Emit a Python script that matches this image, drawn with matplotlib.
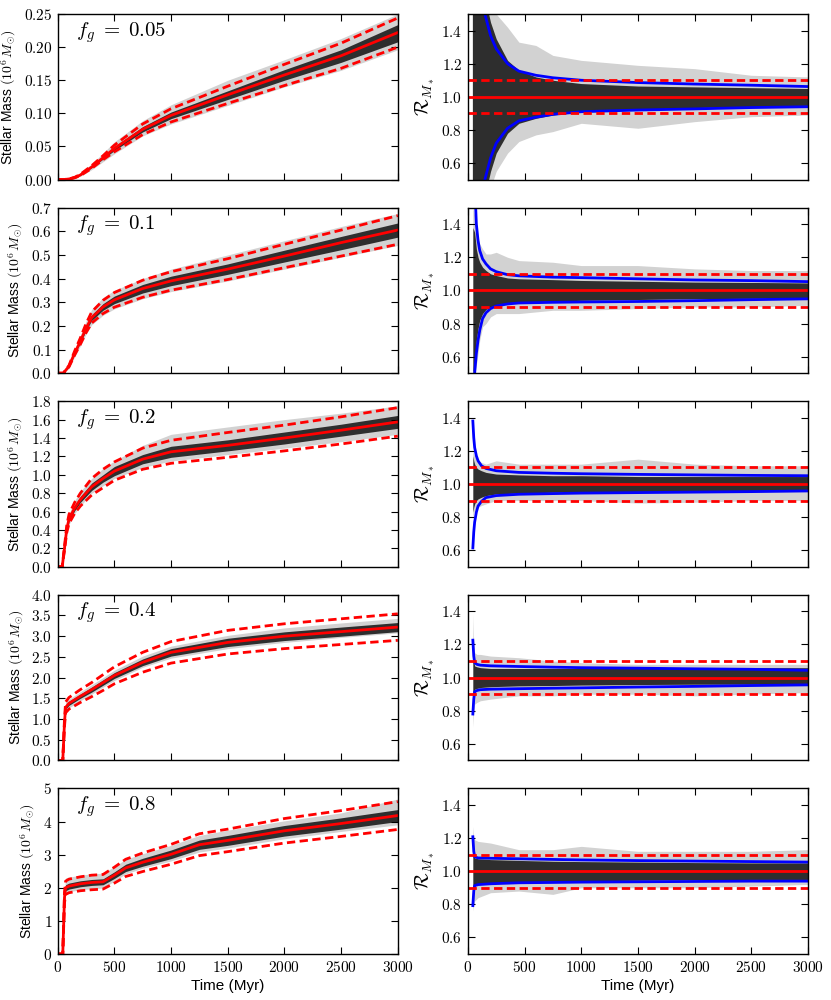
import numpy as np
import matplotlib
matplotlib.use("Agg")
import matplotlib.pyplot as plt

plt.rcParams["mathtext.fontset"] = "cm"
plt.rcParams["font.family"] = ["Liberation Sans", "DejaVu Sans"]

# ---- left column: stellar mass (10^6 Msun) vs time (Myr) ----
fg_labels = ["0.05", "0.1", "0.2", "0.4", "0.8"]

t1 = [0, 50, 100, 150, 200, 300, 400, 500, 750, 1000, 1500, 2000, 2500, 3000]
med1 = [0, 0, 0.001, 0.003, 0.007, 0.019, 0.033, 0.047, 0.076, 0.097, 0.128, 0.158, 0.187, 0.222]
up1 = [0, 0, 0.001, 0.0035, 0.008, 0.021, 0.036, 0.052, 0.084, 0.107, 0.141, 0.174, 0.206, 0.244]
lo1 = [0, 0, 0.001, 0.0027, 0.006, 0.017, 0.030, 0.042, 0.068, 0.087, 0.115, 0.142, 0.168, 0.200]
envhi1 = [0, 0, 0.002, 0.005, 0.010, 0.024, 0.040, 0.057, 0.089, 0.113, 0.150, 0.181, 0.213, 0.250]
envlo1 = [0, 0, 0.0005, 0.002, 0.005, 0.015, 0.027, 0.039, 0.066, 0.084, 0.112, 0.140, 0.165, 0.196]
corehi1 = [0, 0, 0.001, 0.0032, 0.0075, 0.020, 0.035, 0.050, 0.080, 0.102, 0.134, 0.166, 0.196, 0.234]
corelo1 = [0, 0, 0.001, 0.0028, 0.0065, 0.018, 0.031, 0.044, 0.072, 0.092, 0.121, 0.150, 0.177, 0.208]

t2 = [0, 50, 100, 150, 200, 250, 300, 400, 500, 750, 1000, 1500, 2000, 2500, 3000]
med2 = [0, 0, 0.03, 0.085, 0.135, 0.19, 0.235, 0.28, 0.31, 0.358, 0.39, 0.44, 0.495, 0.552, 0.605]
up2 = [0, 0, 0.033, 0.094, 0.149, 0.209, 0.259, 0.308, 0.341, 0.393, 0.429, 0.484, 0.545, 0.605, 0.666]
lo2 = [0, 0, 0.027, 0.077, 0.122, 0.171, 0.212, 0.252, 0.279, 0.321, 0.351, 0.396, 0.446, 0.495, 0.545]
envhi2 = [0, 0, 0.04, 0.10, 0.16, 0.22, 0.27, 0.32, 0.35, 0.40, 0.44, 0.50, 0.56, 0.62, 0.675]
envlo2 = [0, 0, 0.02, 0.07, 0.115, 0.165, 0.205, 0.245, 0.272, 0.315, 0.345, 0.39, 0.44, 0.49, 0.54]
corehi2 = [0, 0, 0.032, 0.089, 0.142, 0.20, 0.247, 0.294, 0.326, 0.375, 0.41, 0.462, 0.52, 0.578, 0.635]
corelo2 = [0, 0, 0.028, 0.081, 0.128, 0.18, 0.223, 0.266, 0.294, 0.339, 0.37, 0.418, 0.47, 0.522, 0.575]

t3 = [0, 40, 60, 80, 100, 150, 200, 300, 400, 500, 750, 1000, 1500, 2000, 2500, 3000]
med3 = [0, 0, 0.2, 0.41, 0.52, 0.64, 0.73, 0.87, 0.96, 1.04, 1.17, 1.25, 1.32, 1.40, 1.485, 1.575]
up3 = [0, 0, 0.22, 0.45, 0.57, 0.70, 0.80, 0.96, 1.06, 1.14, 1.29, 1.375, 1.46, 1.54, 1.63, 1.73]
lo3 = [0, 0, 0.18, 0.37, 0.47, 0.58, 0.66, 0.78, 0.86, 0.94, 1.06, 1.125, 1.19, 1.26, 1.335, 1.42]
envhi3 = [0, 0, 0.24, 0.47, 0.58, 0.72, 0.82, 0.96, 1.07, 1.15, 1.32, 1.44, 1.52, 1.60, 1.67, 1.75]
envlo3 = [0, 0, 0.17, 0.36, 0.46, 0.58, 0.66, 0.80, 0.88, 0.96, 1.08, 1.15, 1.22, 1.29, 1.36, 1.44]
corehi3 = [0, 0, 0.21, 0.43, 0.545, 0.67, 0.765, 0.91, 1.0, 1.09, 1.22, 1.31, 1.38, 1.465, 1.55, 1.645]
corelo3 = [0, 0, 0.19, 0.39, 0.495, 0.61, 0.70, 0.83, 0.92, 0.99, 1.12, 1.19, 1.26, 1.335, 1.42, 1.505]

t4 = [0, 45, 60, 70, 100, 200, 300, 400, 500, 750, 1000, 1500, 2000, 2500, 3000]
med4 = [0, 0, 0.9, 1.28, 1.38, 1.55, 1.71, 1.88, 2.05, 2.37, 2.61, 2.85, 3.0, 3.11, 3.22]
up4 = [0, 0, 0.99, 1.41, 1.52, 1.71, 1.88, 2.07, 2.26, 2.61, 2.87, 3.14, 3.30, 3.42, 3.54]
lo4 = [0, 0, 0.81, 1.15, 1.24, 1.40, 1.54, 1.69, 1.85, 2.13, 2.35, 2.57, 2.70, 2.80, 2.90]
envhi4 = [0, 0, 0.95, 1.40, 1.48, 1.66, 1.83, 2.0, 2.18, 2.52, 2.76, 3.02, 3.2, 3.32, 3.43]
envlo4 = [0, 0, 0.85, 1.18, 1.27, 1.44, 1.6, 1.77, 1.93, 2.25, 2.47, 2.7, 2.85, 2.97, 3.08]
corehi4 = [0, 0, 0.93, 1.325, 1.43, 1.6, 1.77, 1.945, 2.12, 2.45, 2.7, 2.95, 3.105, 3.22, 3.33]
corelo4 = [0, 0, 0.87, 1.235, 1.33, 1.5, 1.65, 1.815, 1.98, 2.29, 2.52, 2.75, 2.895, 3.0, 3.11]

t5 = [0, 45, 60, 70, 100, 200, 300, 400, 500, 600, 750, 1000, 1250, 1500, 2000, 2500, 3000]
med5 = [0, 0, 1.7, 2.0, 2.05, 2.12, 2.16, 2.18, 2.38, 2.6, 2.77, 3.01, 3.3, 3.43, 3.72, 3.94, 4.18]
up5 = [0, 0, 1.87, 2.2, 2.26, 2.33, 2.38, 2.4, 2.62, 2.86, 3.05, 3.31, 3.63, 3.77, 4.09, 4.33, 4.6]
lo5 = [0, 0, 1.53, 1.8, 1.85, 1.91, 1.94, 1.96, 2.14, 2.34, 2.49, 2.71, 2.97, 3.09, 3.35, 3.55, 3.76]
envhi5 = [0, 0, 1.9, 2.3, 2.32, 2.38, 2.42, 2.44, 2.64, 2.86, 3.03, 3.28, 3.58, 3.74, 4.02, 4.26, 4.68]
envlo5 = [0, 0, 1.6, 1.85, 1.88, 1.94, 1.97, 1.99, 2.2, 2.42, 2.59, 2.81, 3.08, 3.2, 3.48, 3.7, 3.9]
corehi5 = [0, 0, 1.78, 2.09, 2.14, 2.21, 2.25, 2.27, 2.48, 2.71, 2.89, 3.14, 3.44, 3.58, 3.88, 4.11, 4.36]
corelo5 = [0, 0, 1.62, 1.91, 1.96, 2.03, 2.07, 2.09, 2.28, 2.49, 2.65, 2.88, 3.16, 3.28, 3.56, 3.77, 4.0]

mass_ylim = [0.25, 0.7, 1.8, 4.0, 5.0]
mass_ystep = [0.05, 0.1, 0.2, 0.5, 1.0]
mass_ydec = [2, 1, 1, 1, 0]

# ---- right column: ratio R = M / median ----
tr1 = [40, 60, 100, 150, 200, 250, 350, 450, 600, 750, 1000, 1500, 2000, 2500, 3000]
bhi1 = [4.0, 2.8, 1.9, 1.5, 1.37, 1.29, 1.20, 1.155, 1.13, 1.115, 1.10, 1.086, 1.077, 1.07, 1.062]
blo1 = [-1.0, -0.2, 0.3, 0.5, 0.63, 0.72, 0.81, 0.855, 0.877, 0.894, 0.91, 0.92, 0.927, 0.935, 0.94]
rehi1 = [3.0, 3.0, 2.0, 1.7, 1.56, 1.5, 1.42, 1.33, 1.31, 1.25, 1.22, 1.19, 1.17, 1.13, 1.12]
relo1 = [-1.0, -1.0, 0.0, 0.3, 0.45, 0.55, 0.66, 0.73, 0.77, 0.79, 0.84, 0.81, 0.85, 0.88, 0.89]
rchi1 = [3.0, 3.0, 2.0, 1.6, 1.45, 1.35, 1.22, 1.16, 1.12, 1.10, 1.08, 1.065, 1.06, 1.055, 1.05]
rclo1 = [-1.0, -1.0, 0.0, 0.4, 0.55, 0.66, 0.78, 0.84, 0.87, 0.89, 0.91, 0.925, 0.935, 0.94, 0.945]

tr2 = [44, 60, 75, 90, 105, 130, 160, 200, 250, 350, 450, 750, 1000, 1500, 2000, 2500, 3000]
bhi2 = [2.2, 1.65, 1.40, 1.30, 1.24, 1.19, 1.16, 1.13, 1.113, 1.095, 1.088, 1.08, 1.077, 1.07, 1.063, 1.059, 1.053]
blo2 = [-0.2, 0.5, 0.62, 0.70, 0.76, 0.83, 0.865, 0.89, 0.906, 0.918, 0.924, 0.928, 0.93, 0.933, 0.938, 0.944, 0.949]
rehi2 = [1.5, 1.45, 1.38, 1.32, 1.28, 1.25, 1.22, 1.22, 1.23, 1.2, 1.18, 1.17, 1.15, 1.15, 1.13, 1.12, 1.12]
relo2 = [0.5, 0.5, 0.55, 0.62, 0.7, 0.78, 0.8, 0.84, 0.86, 0.86, 0.86, 0.88, 0.88, 0.89, 0.9, 0.9, 0.91]
rchi2 = [1.38, 1.35, 1.25, 1.2, 1.17, 1.14, 1.12, 1.1, 1.09, 1.075, 1.07, 1.065, 1.06, 1.055, 1.05, 1.048, 1.045]
rclo2 = [0.5, 0.55, 0.7, 0.77, 0.82, 0.86, 0.885, 0.9, 0.912, 0.925, 0.93, 0.935, 0.94, 0.945, 0.95, 0.952, 0.955]

tr3 = [44, 52, 60, 75, 90, 120, 160, 250, 450, 750, 1000, 1500, 2000, 2500, 3000]
bhi3 = [1.38, 1.28, 1.22, 1.17, 1.14, 1.11, 1.094, 1.08, 1.07, 1.065, 1.062, 1.058, 1.055, 1.052, 1.05]
blo3 = [0.614, 0.71, 0.77, 0.83, 0.867, 0.895, 0.918, 0.93, 0.938, 0.942, 0.945, 0.948, 0.951, 0.954, 0.958]
rehi3 = [1.2, 1.18, 1.17, 1.15, 1.14, 1.13, 1.12, 1.14, 1.12, 1.12, 1.12, 1.15, 1.12, 1.11, 1.11]
relo3 = [0.8, 0.82, 0.84, 0.85, 0.86, 0.87, 0.88, 0.9, 0.9, 0.9, 0.9, 0.885, 0.89, 0.9, 0.9]
rchi3 = [1.17, 1.14, 1.12, 1.1, 1.09, 1.08, 1.07, 1.06, 1.055, 1.05, 1.05, 1.045, 1.045, 1.045, 1.045]
rclo3 = [0.83, 0.86, 0.88, 0.9, 0.91, 0.92, 0.93, 0.94, 0.945, 0.95, 0.952, 0.955, 0.955, 0.955, 0.955]

tr4 = [44, 52, 60, 80, 110, 200, 450, 750, 1000, 1500, 2000, 2500, 3000]
bhi4 = [1.226, 1.13, 1.09, 1.08, 1.075, 1.071, 1.067, 1.063, 1.06, 1.057, 1.053, 1.05, 1.044]
blo4 = [0.78, 0.87, 0.915, 0.922, 0.927, 0.93, 0.933, 0.936, 0.938, 0.943, 0.947, 0.952, 0.956]
rehi4 = [1.38, 1.2, 1.15, 1.14, 1.14, 1.13, 1.12, 1.1, 1.09, 1.08, 1.08, 1.08, 1.08]
relo4 = [0.7, 0.8, 0.84, 0.85, 0.86, 0.87, 0.89, 0.89, 0.9, 0.9, 0.89, 0.9, 0.91]
rchi4 = [1.2, 1.1, 1.07, 1.065, 1.06, 1.055, 1.055, 1.055, 1.055, 1.055, 1.058, 1.06, 1.06]
rclo4 = [0.8, 0.9, 0.93, 0.935, 0.94, 0.945, 0.95, 0.952, 0.955, 0.958, 0.96, 0.96, 0.962]

tr5 = [44, 52, 60, 90, 200, 450, 750, 1000, 1500, 2000, 2500, 3000]
bhi5 = [1.208, 1.12, 1.087, 1.08, 1.078, 1.075, 1.071, 1.068, 1.064, 1.061, 1.058, 1.055]
blo5 = [0.792, 0.88, 0.913, 0.919, 0.924, 0.93, 0.932, 0.934, 0.936, 0.938, 0.94, 0.94]
rehi5 = [1.27, 1.2, 1.19, 1.18, 1.17, 1.13, 1.13, 1.15, 1.12, 1.12, 1.12, 1.13]
relo5 = [0.76, 0.8, 0.82, 0.84, 0.87, 0.88, 0.86, 0.9, 0.9, 0.9, 0.91, 0.92]
rchi5 = [1.2, 1.1, 1.08, 1.075, 1.07, 1.065, 1.06, 1.058, 1.055, 1.052, 1.05, 1.05]
rclo5 = [0.8, 0.9, 0.92, 0.925, 0.93, 0.935, 0.94, 0.942, 0.945, 0.948, 0.95, 0.95]

ratio_levels = [0.9, 1.0, 1.1]
ratio_yticks = [0.6, 0.8, 1.0, 1.2, 1.4]
time_ticks = [0, 500, 1000, 1500, 2000, 2500, 3000]

left_data = [
    (t1, med1, up1, lo1, envhi1, envlo1, corehi1, corelo1),
    (t2, med2, up2, lo2, envhi2, envlo2, corehi2, corelo2),
    (t3, med3, up3, lo3, envhi3, envlo3, corehi3, corelo3),
    (t4, med4, up4, lo4, envhi4, envlo4, corehi4, corelo4),
    (t5, med5, up5, lo5, envhi5, envlo5, corehi5, corelo5),
]
right_data = [
    (tr1, bhi1, blo1, rehi1, relo1, rchi1, rclo1),
    (tr2, bhi2, blo2, rehi2, relo2, rchi2, rclo2),
    (tr3, bhi3, blo3, rehi3, relo3, rchi3, rclo3),
    (tr4, bhi4, blo4, rehi4, relo4, rchi4, rclo4),
    (tr5, bhi5, blo5, rehi5, relo5, rchi5, rclo5),
]

RED = "#ff0000"
BLUE = "#0000ff"
LIGHT = "#d2d2d2"
DARK = "#2e2e2e"
DASH = (3, 1.6)


def style_axis(ax, ytick_vals, ytick_labels, bottom):
    ax.set_xlim(0, 3000)
    ax.set_xticks(time_ticks)
    if bottom:
        ax.set_xticklabels(["$%d$" % v for v in time_ticks])
        ax.set_xlabel("Time (Myr)", fontsize=11, labelpad=3)
    else:
        ax.set_xticklabels([])
    ax.set_yticks(ytick_vals)
    ax.set_yticklabels(ytick_labels)
    ax.tick_params(direction="in", top=True, right=True, length=5,
                   width=0.8, labelsize=11, pad=4)
    for sp in ax.spines.values():
        sp.set_linewidth(1.0)


fig, axes = plt.subplots(5, 2, figsize=(8.31, 10.0), dpi=100)
fig.subplots_adjust(left=0.0694, right=0.9723, top=0.986, bottom=0.046,
                    wspace=0.206, hspace=0.169)

for i in range(5):
    ax = axes[i, 0]
    t, med, up, lo, ehi, elo, chi, clo = left_data[i]
    ax.fill_between(t, elo, ehi, color=LIGHT, lw=0)
    ax.fill_between(t, clo, chi, color=DARK, lw=0)
    ax.plot(t, up, color=RED, lw=2.0, dashes=DASH)
    ax.plot(t, lo, color=RED, lw=2.0, dashes=DASH)
    ax.plot(t, med, color=RED, lw=2.0)
    ax.set_ylim(0, mass_ylim[i])
    n = int(round(mass_ylim[i] / mass_ystep[i]))
    yv = [k * mass_ystep[i] for k in range(n + 1)]
    yl = ["$%.*f$" % (mass_ydec[i], v) for v in yv]
    style_axis(ax, yv, yl, i == 4)
    ax.set_ylabel(r"Stellar Mass $(10^6\,M_{\odot})$", fontsize=10, labelpad=4)
    ax.text(0.055, 0.89, r"$f_g\;=\;%s$" % fg_labels[i], transform=ax.transAxes,
            fontsize=15, ha="left", va="center")

    ax = axes[i, 1]
    tr, bhi, blo, ehi, elo, chi, clo = right_data[i]
    ax.fill_between(tr, elo, ehi, color=LIGHT, lw=0)
    ax.fill_between(tr, clo, chi, color=DARK, lw=0)
    ax.plot(tr, bhi, color=BLUE, lw=2.0)
    ax.plot(tr, blo, color=BLUE, lw=2.0)
    for lev in ratio_levels:
        if lev == 1.0:
            ax.axhline(lev, color=RED, lw=2.0)
        else:
            ax.axhline(lev, color=RED, lw=2.0, dashes=DASH)
    ax.set_ylim(0.5, 1.5)
    style_axis(ax, ratio_yticks, ["$%.1f$" % v for v in ratio_yticks], i == 4)
    ax.set_ylabel(r"$\mathcal{R}_{M_*}$", fontsize=14, labelpad=3)

fig.savefig("out.png", dpi=100)
